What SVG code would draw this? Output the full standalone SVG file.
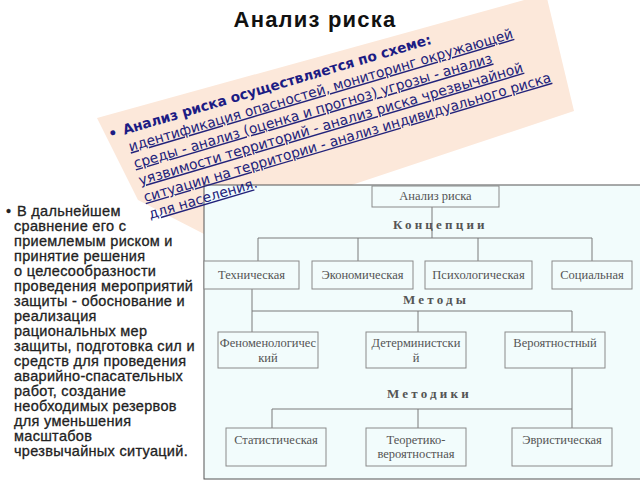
<svg xmlns="http://www.w3.org/2000/svg" width="640" height="480" viewBox="0 0 640 480">
<style>
.title{font-family:"Liberation Sans",Arial,sans-serif;font-weight:bold;font-size:22px;fill:#111;}
.left{font-family:"Liberation Sans",Arial,sans-serif;font-size:14.5px;fill:#222;stroke:#222;stroke-width:0.3;letter-spacing:0.3px;}
.rot{font-family:"DejaVu Sans",Verdana,sans-serif;font-size:14px;fill:#22227a;}
.rotb{font-weight:bold;fill:#1c1c84;}
.u{text-decoration:underline;}
.box{fill:#f2fcfc;stroke:#8a8a8a;stroke-width:1;}
.lbl{font-family:"Liberation Serif","Times New Roman",serif;font-size:12.5px;fill:#555;text-anchor:middle;}
.hdr{font-family:"Liberation Serif","Times New Roman",serif;font-size:13px;font-weight:bold;fill:#555;letter-spacing:3.2px;}
.conn{stroke:#7a7a7a;stroke-width:1;fill:none;}
</style>
<rect x="0" y="0" width="640" height="480" fill="#ffffff"/>
<polygon points="97,118 546,-6 574,111 204,234 138,200" fill="#fce8da"/>
<text class="title" x="315" y="27" text-anchor="middle" letter-spacing="1.2">Анализ риска</text>
<g id="left-text">
<text class="left" x="6" y="216">•</text>
<text class="left"><tspan x="17" y="216">В дальнейшем</tspan><tspan x="14" dy="15">сравнение его с</tspan><tspan x="14" dy="15">приемлемым риском и</tspan><tspan x="14" dy="15">принятие решения</tspan><tspan x="14" dy="15">о целесообразности</tspan><tspan x="14" dy="15">проведения мероприятий</tspan><tspan x="14" dy="15">защиты - обоснование и</tspan><tspan x="14" dy="15">реализация</tspan><tspan x="14" dy="15">рациональных мер</tspan><tspan x="14" dy="15">защиты, подготовка сил и</tspan><tspan x="14" dy="15">средств для проведения</tspan><tspan x="14" dy="15">аварийно-спасательных</tspan><tspan x="14" dy="15">работ, создание</tspan><tspan x="14" dy="15">необходимых резервов</tspan><tspan x="14" dy="15">для уменьшения</tspan><tspan x="14" dy="15">масштабов</tspan><tspan x="14" dy="15">чрезвычайных ситуаций.</tspan></text>
</g>
<rect id="panel" x="204" y="185" width="445" height="294" fill="#f2fcfc" stroke="#555" stroke-width="1"/>
<g id="connectors">
<line class="conn" x1="432" y1="207" x2="432" y2="238"/>
<line class="conn" x1="258" y1="238" x2="592" y2="238"/>
<line class="conn" x1="258" y1="238" x2="258" y2="261"/>
<line class="conn" x1="358" y1="238" x2="358" y2="261"/>
<line class="conn" x1="478" y1="238" x2="478" y2="261"/>
<line class="conn" x1="592" y1="238" x2="592" y2="261"/>
<line class="conn" x1="252" y1="289" x2="252" y2="332"/>
<line class="conn" x1="252" y1="311" x2="572" y2="311"/>
<line class="conn" x1="418" y1="311" x2="418" y2="332"/>
<line class="conn" x1="572" y1="311" x2="572" y2="332"/>
<line class="conn" x1="572" y1="368" x2="572" y2="428"/>
<line class="conn" x1="272" y1="409" x2="572" y2="409"/>
<line class="conn" x1="272" y1="409" x2="272" y2="428"/>
<line class="conn" x1="418" y1="409" x2="418" y2="428"/>
</g>
<text class="hdr" x="393" y="229">Концепции</text>
<text class="hdr" x="403" y="304">Методы</text>
<text class="hdr" x="387" y="398">Методики</text>
<g id="node-risk"><rect class="box" x="372" y="186" width="127" height="21"/><text class="lbl" x="435.5" y="200">Анализ риска</text></g>
<g id="node-tech"><rect class="box" x="204" y="261" width="95" height="28"/><text class="lbl" x="251.5" y="279">Техническая</text></g>
<g id="node-econ"><rect class="box" x="312" y="261" width="101" height="28"/><text class="lbl" x="362.5" y="279">Экономическая</text></g>
<g id="node-psych"><rect class="box" x="425" y="261" width="107" height="28"/><text class="lbl" x="478.5" y="279">Психологическая</text></g>
<g id="node-social"><rect class="box" x="552" y="261" width="80" height="28"/><text class="lbl" x="592" y="279">Социальная</text></g>
<g id="node-phen"><rect class="box" x="218" y="332" width="100" height="36"/><text class="lbl" x="268" y="347">Феноменологичес</text><text class="lbl" x="268" y="362">кий</text></g>
<g id="node-det"><rect class="box" x="366" y="332" width="100" height="36"/><text class="lbl" x="416" y="347">Детерминистски</text><text class="lbl" x="416" y="362">й</text></g>
<g id="node-prob"><rect class="box" x="505" y="332" width="100" height="36"/><text class="lbl" x="555" y="347">Вероятностный</text></g>
<g id="node-stat"><rect class="box" x="226" y="428" width="100" height="38"/><text class="lbl" x="276" y="444">Статистическая</text></g>
<g id="node-theor"><rect class="box" x="366" y="428" width="100" height="38"/><text class="lbl" x="416" y="444">Теоретико-</text><text class="lbl" x="416" y="458">вероятностная</text></g>
<g id="node-heur"><rect class="box" x="512" y="428" width="100" height="38"/><text class="lbl" x="562" y="444">Эвристическая</text></g>
<g id="rotated-text" transform="rotate(-16.5)">
<text class="rot rotb" x="66" y="164.6">•</text>
<text class="rot rotb" x="81" y="164.6" textLength="321" lengthAdjust="spacingAndGlyphs">Анализ риска осуществляется по схеме:</text>
<text class="rot u" x="82" y="182.2" textLength="400" lengthAdjust="spacingAndGlyphs">идентификация опасностей, мониторинг окружающей</text>
<text class="rot u" x="82" y="199.8" textLength="373" lengthAdjust="spacingAndGlyphs">среды - анализ (оценка и прогноз) угрозы - анализ</text>
<text class="rot u" x="82" y="217.4" textLength="400" lengthAdjust="spacingAndGlyphs">уязвимости территорий - анализ риска чрезвычайной</text>
<text class="rot u" x="82" y="235" textLength="424" lengthAdjust="spacingAndGlyphs">ситуации на территории - анализ индивидуального риска</text>
<text class="rot" x="82" y="252.6"><tspan class="u" textLength="108" lengthAdjust="spacingAndGlyphs">для населения</tspan>.</text>
</g>
</svg>
